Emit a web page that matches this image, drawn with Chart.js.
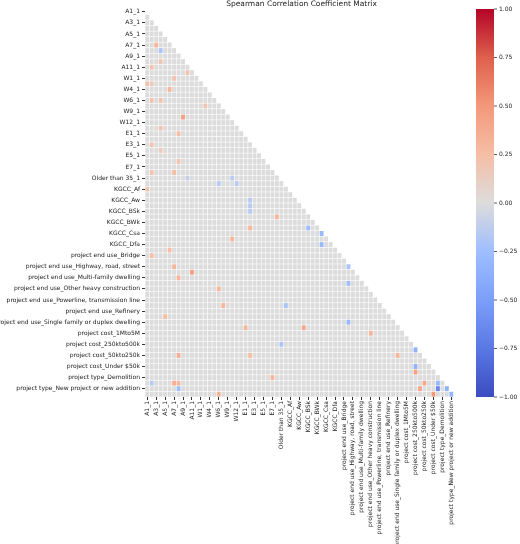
<!DOCTYPE html>
<html>
<head>
<meta charset="utf-8">
<script src="https://cdn.jsdelivr.net/npm/chart.js@4.4.1/dist/chart.umd.min.js"></script>
<style>
  html, body { margin: 0; padding: 0; background: #fff; }
  #wrap { width: 520px; height: 544px; }
</style>
</head>
<body>
<div id="wrap"><canvas id="corr"></canvas></div>
<script>
var variables = [
    'A1_1', 'A2_1', 'A3_1', 'A4_1', 'A5_1', 'A6_1', 'A7_1', 'A8_1', 'A9_1', 'A10_1', 'A11_1', 'A12_1',
    'W1_1', 'W2_1', 'W4_1', 'W5_1', 'W6_1', 'W7_1', 'W9_1', 'W10_1', 'W12_1', 'W13_1',
    'E1_1', 'E2_1', 'E3_1', 'E4_1', 'E5_1', 'E6_1', 'E7_1', 'E8_1',
    'Older than 35_1', 'KGCC_', 'KGCC_Af', 'KGCC_Am', 'KGCC_Aw', 'KGCC_BSh', 'KGCC_BSk', 'KGCC_BWh',
    'KGCC_BWk', 'KGCC_Cfa', 'KGCC_Csa', 'KGCC_Csb', 'KGCC_Dfa', 'KGCC_Dfb',
    'project end use_Bridge', 'project end use_Commercial building', 'project end use_Highway, road, street',
    'project end use_Industrial', 'project end use_Multi-family dwelling', 'project end use_Other',
    'project end use_Other heavy construction', 'project end use_Other light construction',
    'project end use_Powerline, transmission line', 'project end use_Public building',
    'project end use_Refinery', 'project end use_Sewer', 'project end use_Single family or duplex dwelling',
    'project end use_Water', 'project cost_1Mto5M', 'project cost_20Mto50M', 'project cost_250kto500k',
    'project cost_500kto1M', 'project cost_50kto250k', 'project cost_5Mto20M', 'project cost_Under $50k',
    'project type_Addition', 'project type_Demolition', 'project type_Maintenance',
    'project type_New project or new addition', 'project type_Renovation'
];

// notable (non-grey) cells of the lower triangle: row, column, coefficient
var cellRows = [6, 7, 9, 10, 11, 12, 13, 13, 14, 16, 16, 17, 19, 21, 22, 24, 25, 27, 29, 29, 30, 30, 31, 31, 32,
    34, 35, 36, 37, 39, 39, 40, 41, 42, 43, 44, 46, 46, 47, 48, 49, 50, 53, 53, 55, 56, 57, 57, 58, 60,
    61, 62, 62, 62, 64, 65, 66, 67, 67, 67, 67, 67, 68, 68, 68, 68, 69, 69, 69];
var cellCols = [2, 3, 3, 1, 9, 6, 0, 1, 5, 1, 3, 13, 8, 3, 7, 1, 3, 7, 1, 6, 9, 19, 16, 20, 0,
    23, 23, 23, 29, 23, 36, 39, 19, 39, 5, 1, 6, 45, 10, 7, 45, 16, 17, 31, 4, 45, 22, 35, 50, 30,
    60, 7, 23, 56, 60, 60, 28, 1, 6, 7, 62, 65, 7, 61, 65, 67, 16, 64, 68];
var cellVals = [0.3, -0.2, 0.2, 0.2, 0.2, 0.2, 0.2, 0.15, 0.3, 0.2, 0.2, 0.2, 0.45, 0.2, 0.25, 0.2, 0.15, 0.2, 0.2, 0.25, -0.1, -0.15, -0.15, -0.15, 0.2,
    -0.15, -0.15, -0.15, 0.3, 0.3, -0.25, -0.3, 0.3, -0.3, 0.25, 0.25, 0.3, -0.2, 0.45, 0.3, -0.25, 0.3, 0.3, -0.2, 0.25, -0.3, 0.3, 0.4, 0.3, -0.2,
    -0.35, 0.35, 0.25, 0.3, -0.35, 0.45, 0.3, -0.15, 0.35, 0.3, 0.4, -0.3, -0.25, 0.4, -0.65, -0.35, 0.3, 0.5, -0.3];
var tickIndexes = [];
for (var t = 0; t < variables.length; t += 2) tickIndexes.push(t);
var barTicks = [1, 0.75, 0.5, 0.25, 0, -0.25, -0.5, -0.75, -1];

var stops = [[0, [59, 76, 192]], [0.125, [90, 120, 228]], [0.25, [123, 159, 249]], [0.375, [158, 190, 255]],
    [0.5, [221, 220, 220]], [0.625, [245, 190, 165]], [0.75, [244, 152, 122]], [0.875, [222, 96, 77]], [1, [180, 4, 38]]];

function coolwarm(v) {
    var p = Math.max(0, Math.min(1, (v + 1) / 2));
    for (var i = 1; i < stops.length; i++) {
        if (p <= stops[i][0]) {
            var a = stops[i - 1], b = stops[i];
            var f = (p - a[0]) / (b[0] - a[0]);
            var c = a[1].map(function (x, k) { return Math.round(x + (b[1][k] - x) * f); });
            return 'rgb(' + c.join(',') + ')';
        }
    }
    return 'rgb(180,4,38)';
}

var lookup = {};
cellRows.forEach(function (r, i) { lookup[r + ',' + cellCols[i]] = cellVals[i]; });
var points = [];
for (var r = 1; r < variables.length; r++) {
    for (var c = 0; c < r; c++) {
        var v = lookup[r + ',' + c];
        points.push({ x: c, y: r, v: v === undefined ? 0 : v });
    }
}

var tickFont = { size: 6, family: 'DejaVu Sans' };

var heatmapPlugin = {
    id: 'heatmap',
    beforeDatasetsDraw: function (chart) {
        var ctx = chart.ctx, xs = chart.scales.x, ys = chart.scales.y;
        ctx.save();
        points.forEach(function (p) {
            var x0 = xs.getPixelForValue(p.x - 0.5), x1 = xs.getPixelForValue(p.x + 0.5);
            var y0 = ys.getPixelForValue(p.y - 0.5), y1 = ys.getPixelForValue(p.y + 0.5);
            ctx.fillStyle = coolwarm(p.v);
            ctx.fillRect(x0 + 0.3, y0 + 0.3, x1 - x0 - 0.6, y1 - y0 - 0.6);
        });
        ctx.restore();
    },
    afterDraw: function (chart) {
        var ctx = chart.ctx, ca = chart.chartArea;
        ctx.save();
        ctx.fillStyle = '#222';
        ctx.font = '7.5px "DejaVu Sans"';
        ctx.textAlign = 'center';
        ctx.textBaseline = 'middle';
        ctx.fillText('Spearman Correlation Coefficient Matrix', (ca.left + ca.right) / 2, 4);

        // colour bar
        var bx = 476, bw = 18, top = ca.top, bottom = ca.bottom;
        var g = ctx.createLinearGradient(0, bottom, 0, top);
        stops.forEach(function (s) { g.addColorStop(s[0], coolwarm(s[0] * 2 - 1)); });
        ctx.fillStyle = g;
        ctx.fillRect(bx, top, bw, bottom - top);
        ctx.strokeStyle = '#333';
        ctx.lineWidth = 0.8;
        ctx.textAlign = 'left';
        ctx.font = '6px "DejaVu Sans"';
        ctx.fillStyle = '#222';
        barTicks.forEach(function (v) {
            var y = bottom - (v + 1) / 2 * (bottom - top);
            ctx.beginPath();
            ctx.moveTo(bx + bw, y);
            ctx.lineTo(bx + bw + 3, y);
            ctx.stroke();
            ctx.fillText(v.toFixed(2).replace('-', '\u2212'), bx + bw + 5, y);
        });
        ctx.restore();
    }
};

new Chart(document.getElementById('corr'), {
    type: 'scatter',
    data: { datasets: [{ data: points, pointRadius: 0, pointHoverRadius: 0 }] },
    options: {
        responsive: true,
        maintainAspectRatio: false,
        animation: false,
        events: [],
        layout: { padding: { top: 9, right: 62, left: 0, bottom: 0 } },
        plugins: { legend: { display: false }, tooltip: { enabled: false } },
        scales: {
            x: {
                type: 'linear', min: -0.5, max: variables.length - 0.5,
                afterBuildTicks: function (s) { s.ticks = tickIndexes.map(function (i) { return { value: i }; }); },
                afterFit: function (s) { s.height = 147; },
                ticks: { autoSkip: false, maxRotation: 90, minRotation: 90, color: '#222', font: tickFont, padding: 1,
                    callback: function (v) { return variables[v]; } },
                grid: { drawOnChartArea: false, tickLength: 3, color: '#333' },
                border: { display: false }
            },
            y: {
                type: 'linear', reverse: true, min: -0.5, max: variables.length - 0.5,
                afterBuildTicks: function (s) { s.ticks = tickIndexes.map(function (i) { return { value: i }; }); },
                afterFit: function (s) { s.width = 145; },
                ticks: { autoSkip: false, color: '#222', font: tickFont, padding: 2,
                    callback: function (v) { return variables[v]; } },
                grid: { drawOnChartArea: false, tickLength: 3, color: '#333' },
                border: { display: false }
            }
        }
    },
    plugins: [heatmapPlugin]
});
</script>
</body>
</html>
